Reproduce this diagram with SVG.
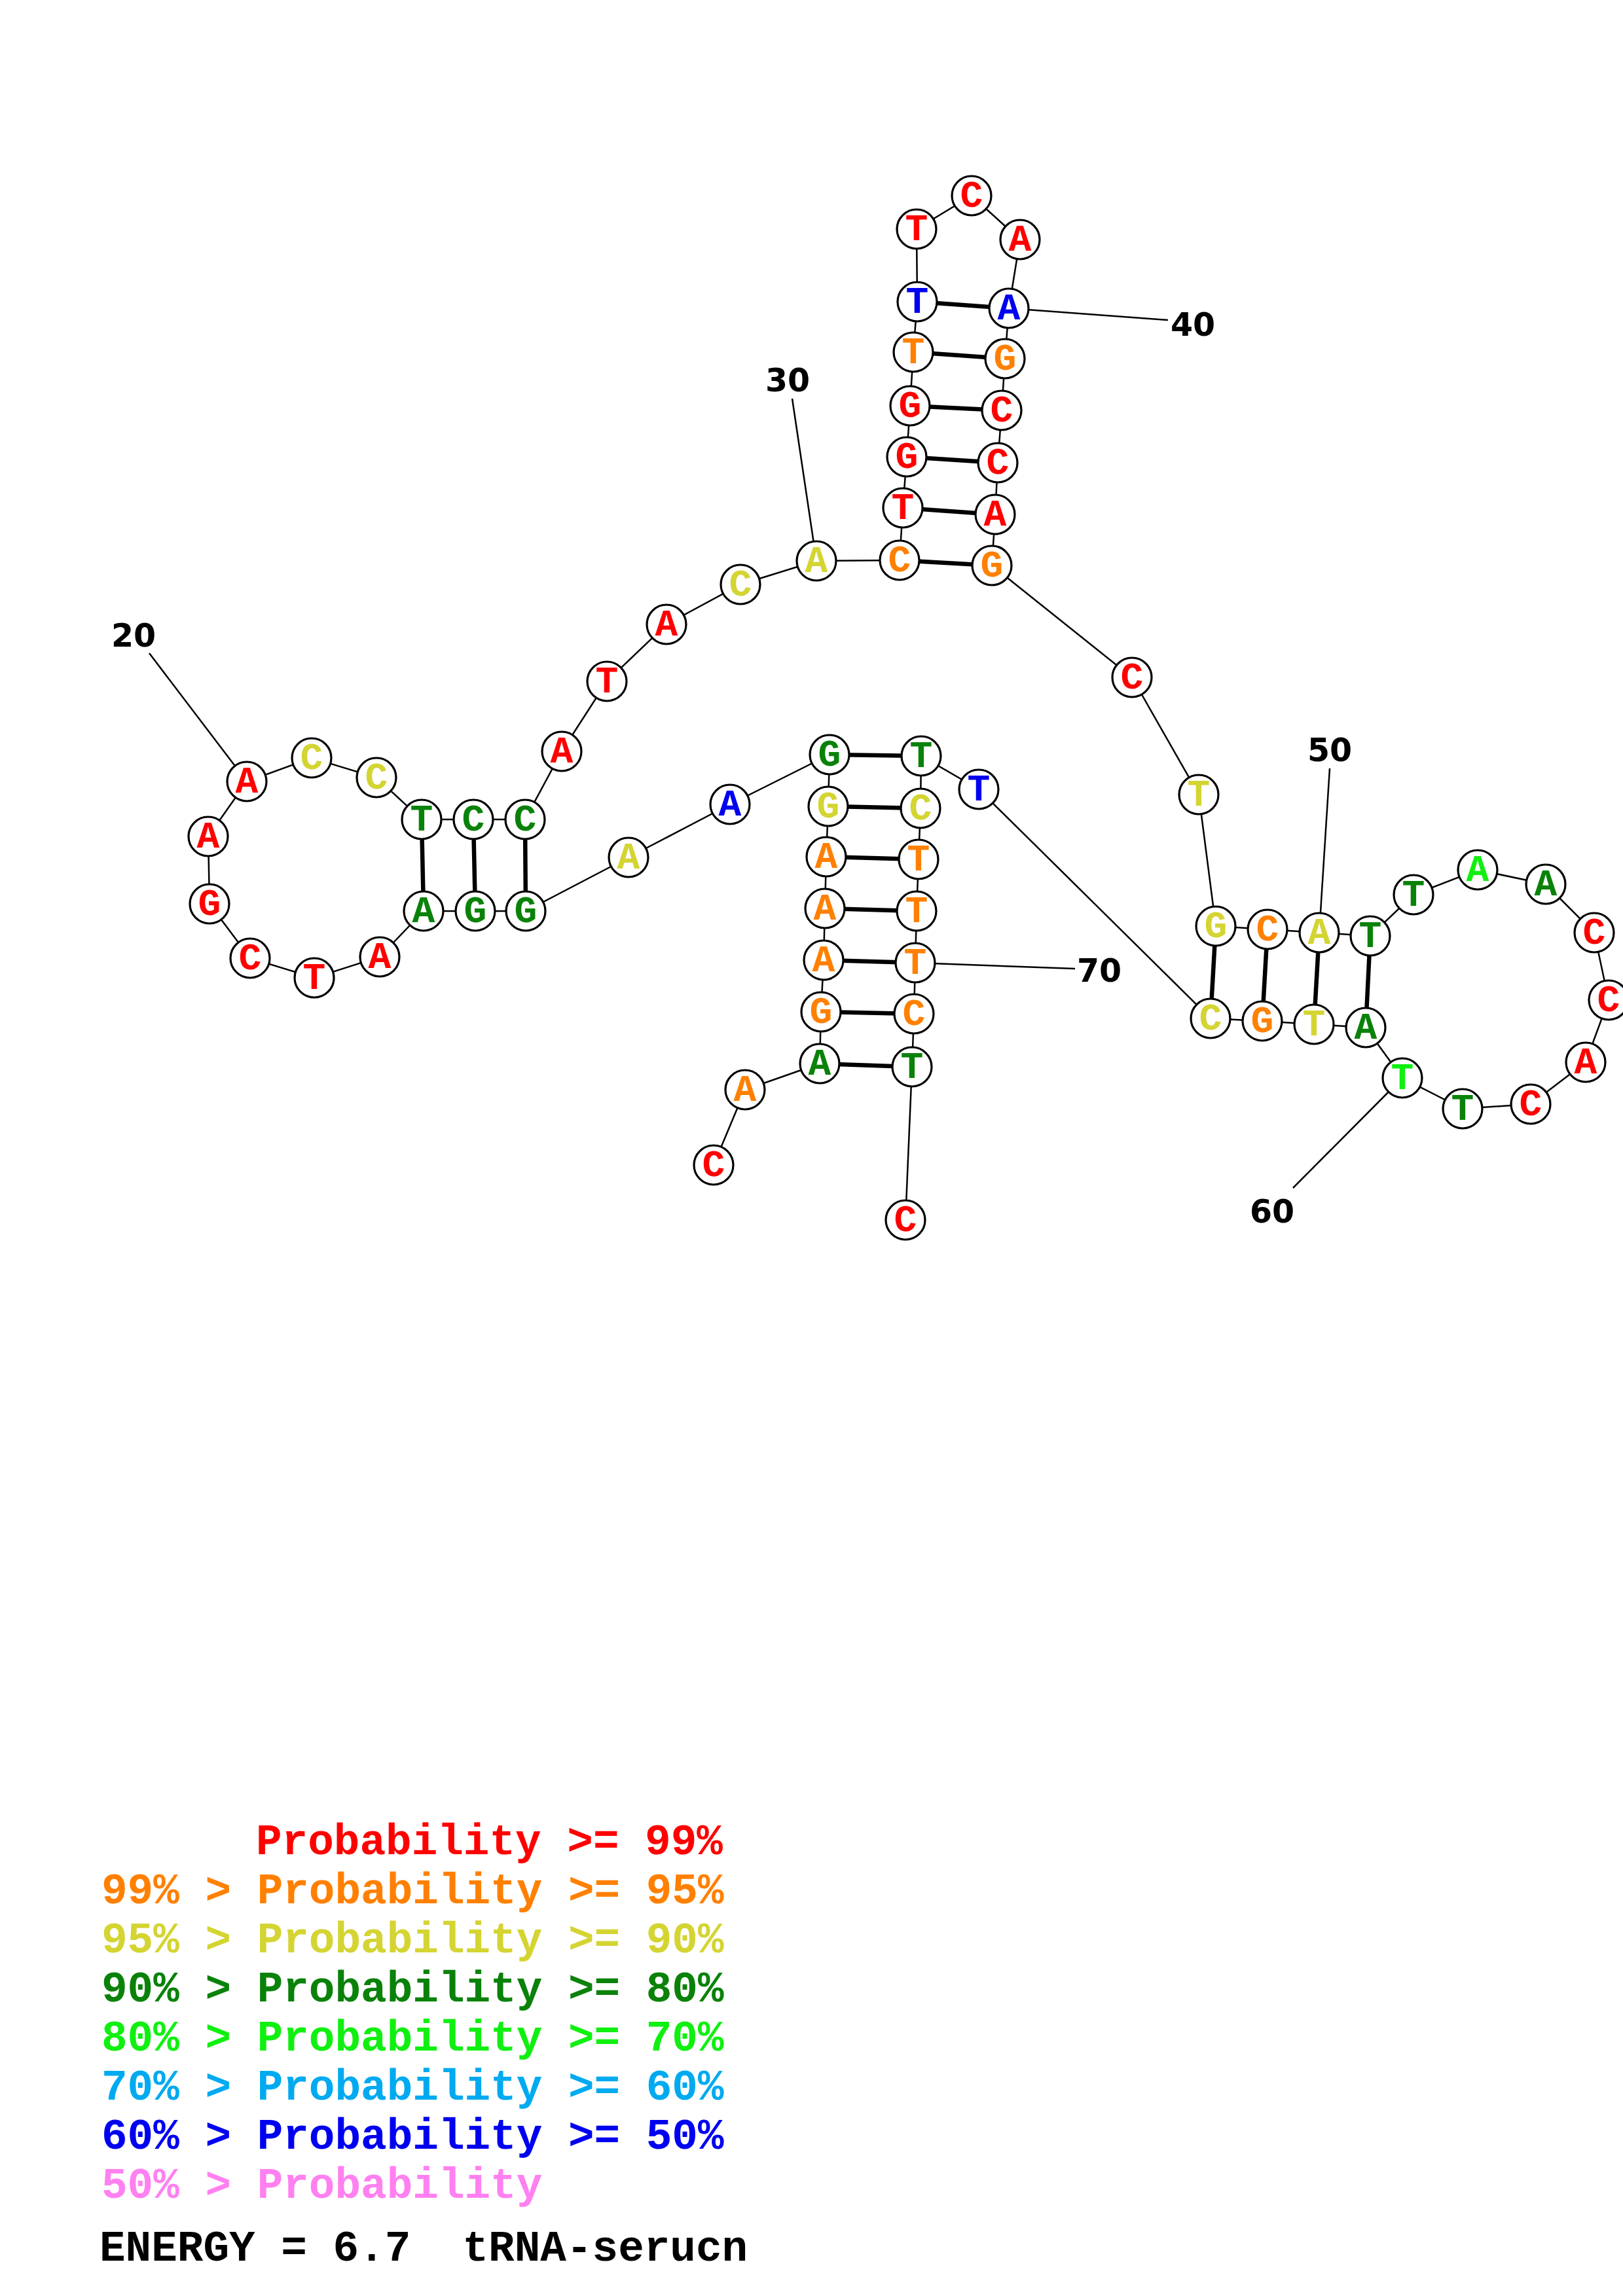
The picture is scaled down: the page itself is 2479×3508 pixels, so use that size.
<svg xmlns="http://www.w3.org/2000/svg" width="2479" height="3508" viewBox="0 0 2479 3508">
<style>
.bb{stroke:#000;stroke-width:2.5;fill:none}
.bp{stroke:#000;stroke-width:6.5;fill:none}
.tk{stroke:#000;stroke-width:2.5;fill:none}
circle{fill:#fff;stroke:#000;stroke-width:3.2}
.nt{font-family:"Liberation Mono","Courier New",monospace;font-weight:bold;font-size:58px;text-anchor:middle}
.num{font-family:"DejaVu Sans","Liberation Sans",sans-serif;font-weight:bold;font-size:49px;text-anchor:middle;fill:#000}
.lg{font-family:"Liberation Mono","Courier New",monospace;font-weight:bold;font-size:66px;white-space:pre}
.r{fill:#ff0000}.o{fill:#ff8000}.y{fill:#d4d432}.g{fill:#0a820a}.G{fill:#10f010}.c{fill:#00aaf0}.b{fill:#0000f0}.p{fill:#ff80f0}.k{fill:#000}
</style>
<rect width="2479" height="3508" fill="#fff"/>
<g id="connectors">
<polyline class="bb" points="1090,1780 1138,1665 1252,1625 1254,1546 1258,1467 1260,1388 1262,1309 1265,1232 1267,1153 1115,1229 960,1310 803,1392 726,1392 647,1392 580,1462 480,1494 382,1464 320,1381 318,1278 377,1194 476,1158 575,1188 644,1252 723,1252 802,1252 858,1148 927,1041 1018,954 1131,893 1247,857 1374,856 1379,776 1385,698 1390,620 1395,538 1401,461 1400,350 1484,299 1558,366 1541,471 1535,548 1530,627 1524,707 1520,786 1515,864 1729,1035 1831,1214 1857,1415 1936,1420 2015,1425 2093,1430 2159,1367 2257,1329 2361,1351 2435,1425 2457,1528 2422,1623 2338,1687 2234,1694 2142,1647 2086,1570 2007,1565 1928,1560 1849,1556 1495,1206 1407,1155 1406,1235 1403,1313 1400,1392 1398,1471 1396,1549 1393,1630 1383,1864"/>
<g id="pairs">
<line class="bp" x1="1252" y1="1625" x2="1393" y2="1630"/>
<line class="bp" x1="1254" y1="1546" x2="1396" y2="1549"/>
<line class="bp" x1="1258" y1="1467" x2="1398" y2="1471"/>
<line class="bp" x1="1260" y1="1388" x2="1400" y2="1392"/>
<line class="bp" x1="1262" y1="1309" x2="1403" y2="1313"/>
<line class="bp" x1="1265" y1="1232" x2="1406" y2="1235"/>
<line class="bp" x1="1267" y1="1153" x2="1407" y2="1155"/>
<line class="bp" x1="803" y1="1392" x2="802" y2="1252"/>
<line class="bp" x1="726" y1="1392" x2="723" y2="1252"/>
<line class="bp" x1="647" y1="1392" x2="644" y2="1252"/>
<line class="bp" x1="1374" y1="856" x2="1515" y2="864"/>
<line class="bp" x1="1379" y1="776" x2="1520" y2="786"/>
<line class="bp" x1="1385" y1="698" x2="1524" y2="707"/>
<line class="bp" x1="1390" y1="620" x2="1530" y2="627"/>
<line class="bp" x1="1395" y1="538" x2="1535" y2="548"/>
<line class="bp" x1="1401" y1="461" x2="1541" y2="471"/>
<line class="bp" x1="1857" y1="1415" x2="1849" y2="1556"/>
<line class="bp" x1="1936" y1="1420" x2="1928" y2="1560"/>
<line class="bp" x1="2015" y1="1425" x2="2007" y2="1565"/>
<line class="bp" x1="2093" y1="1430" x2="2086" y2="1570"/>
</g>
<g id="ticks">
<line class="tk" x1="228" y1="998" x2="377" y2="1194"/>
<line class="tk" x1="1210" y1="609" x2="1247" y2="857"/>
<line class="tk" x1="1784" y1="489" x2="1541" y2="471"/>
<line class="tk" x1="2031" y1="1174" x2="2015" y2="1425"/>
<line class="tk" x1="1975" y1="1815" x2="2142" y2="1647"/>
<line class="tk" x1="1642" y1="1480" x2="1398" y2="1471"/>
</g>
</g>
<g id="nodes">
<g id="n1"><circle cx="1090" cy="1780" r="30"/><text class="nt r" x="1090" y="1797">C</text></g>
<g id="n2"><circle cx="1138" cy="1665" r="30"/><text class="nt o" x="1138" y="1682">A</text></g>
<g id="n3"><circle cx="1252" cy="1625" r="30"/><text class="nt g" x="1252" y="1642">A</text></g>
<g id="n4"><circle cx="1254" cy="1546" r="30"/><text class="nt o" x="1254" y="1563">G</text></g>
<g id="n5"><circle cx="1258" cy="1467" r="30"/><text class="nt o" x="1258" y="1484">A</text></g>
<g id="n6"><circle cx="1260" cy="1388" r="30"/><text class="nt o" x="1260" y="1405">A</text></g>
<g id="n7"><circle cx="1262" cy="1309" r="30"/><text class="nt o" x="1262" y="1326">A</text></g>
<g id="n8"><circle cx="1265" cy="1232" r="30"/><text class="nt y" x="1265" y="1249">G</text></g>
<g id="n9"><circle cx="1267" cy="1153" r="30"/><text class="nt g" x="1267" y="1170">G</text></g>
<g id="n10"><circle cx="1115" cy="1229" r="30"/><text class="nt b" x="1115" y="1246">A</text></g>
<g id="n11"><circle cx="960" cy="1310" r="30"/><text class="nt y" x="960" y="1327">A</text></g>
<g id="n12"><circle cx="803" cy="1392" r="30"/><text class="nt g" x="803" y="1409">G</text></g>
<g id="n13"><circle cx="726" cy="1392" r="30"/><text class="nt g" x="726" y="1409">G</text></g>
<g id="n14"><circle cx="647" cy="1392" r="30"/><text class="nt g" x="647" y="1409">A</text></g>
<g id="n15"><circle cx="580" cy="1462" r="30"/><text class="nt r" x="580" y="1479">A</text></g>
<g id="n16"><circle cx="480" cy="1494" r="30"/><text class="nt r" x="480" y="1511">T</text></g>
<g id="n17"><circle cx="382" cy="1464" r="30"/><text class="nt r" x="382" y="1481">C</text></g>
<g id="n18"><circle cx="320" cy="1381" r="30"/><text class="nt r" x="320" y="1398">G</text></g>
<g id="n19"><circle cx="318" cy="1278" r="30"/><text class="nt r" x="318" y="1295">A</text></g>
<g id="n20"><circle cx="377" cy="1194" r="30"/><text class="nt r" x="377" y="1211">A</text></g>
<g id="n21"><circle cx="476" cy="1158" r="30"/><text class="nt y" x="476" y="1175">C</text></g>
<g id="n22"><circle cx="575" cy="1188" r="30"/><text class="nt y" x="575" y="1205">C</text></g>
<g id="n23"><circle cx="644" cy="1252" r="30"/><text class="nt g" x="644" y="1269">T</text></g>
<g id="n24"><circle cx="723" cy="1252" r="30"/><text class="nt g" x="723" y="1269">C</text></g>
<g id="n25"><circle cx="802" cy="1252" r="30"/><text class="nt g" x="802" y="1269">C</text></g>
<g id="n26"><circle cx="858" cy="1148" r="30"/><text class="nt r" x="858" y="1165">A</text></g>
<g id="n27"><circle cx="927" cy="1041" r="30"/><text class="nt r" x="927" y="1058">T</text></g>
<g id="n28"><circle cx="1018" cy="954" r="30"/><text class="nt r" x="1018" y="971">A</text></g>
<g id="n29"><circle cx="1131" cy="893" r="30"/><text class="nt y" x="1131" y="910">C</text></g>
<g id="n30"><circle cx="1247" cy="857" r="30"/><text class="nt y" x="1247" y="874">A</text></g>
<g id="n31"><circle cx="1374" cy="856" r="30"/><text class="nt o" x="1374" y="873">C</text></g>
<g id="n32"><circle cx="1379" cy="776" r="30"/><text class="nt r" x="1379" y="793">T</text></g>
<g id="n33"><circle cx="1385" cy="698" r="30"/><text class="nt r" x="1385" y="715">G</text></g>
<g id="n34"><circle cx="1390" cy="620" r="30"/><text class="nt r" x="1390" y="637">G</text></g>
<g id="n35"><circle cx="1395" cy="538" r="30"/><text class="nt o" x="1395" y="555">T</text></g>
<g id="n36"><circle cx="1401" cy="461" r="30"/><text class="nt b" x="1401" y="478">T</text></g>
<g id="n37"><circle cx="1400" cy="350" r="30"/><text class="nt r" x="1400" y="367">T</text></g>
<g id="n38"><circle cx="1484" cy="299" r="30"/><text class="nt r" x="1484" y="316">C</text></g>
<g id="n39"><circle cx="1558" cy="366" r="30"/><text class="nt r" x="1558" y="383">A</text></g>
<g id="n40"><circle cx="1541" cy="471" r="30"/><text class="nt b" x="1541" y="488">A</text></g>
<g id="n41"><circle cx="1535" cy="548" r="30"/><text class="nt o" x="1535" y="565">G</text></g>
<g id="n42"><circle cx="1530" cy="627" r="30"/><text class="nt r" x="1530" y="644">C</text></g>
<g id="n43"><circle cx="1524" cy="707" r="30"/><text class="nt r" x="1524" y="724">C</text></g>
<g id="n44"><circle cx="1520" cy="786" r="30"/><text class="nt r" x="1520" y="803">A</text></g>
<g id="n45"><circle cx="1515" cy="864" r="30"/><text class="nt o" x="1515" y="881">G</text></g>
<g id="n46"><circle cx="1729" cy="1035" r="30"/><text class="nt r" x="1729" y="1052">C</text></g>
<g id="n47"><circle cx="1831" cy="1214" r="30"/><text class="nt y" x="1831" y="1231">T</text></g>
<g id="n48"><circle cx="1857" cy="1415" r="30"/><text class="nt y" x="1857" y="1432">G</text></g>
<g id="n49"><circle cx="1936" cy="1420" r="30"/><text class="nt o" x="1936" y="1437">C</text></g>
<g id="n50"><circle cx="2015" cy="1425" r="30"/><text class="nt y" x="2015" y="1442">A</text></g>
<g id="n51"><circle cx="2093" cy="1430" r="30"/><text class="nt g" x="2093" y="1447">T</text></g>
<g id="n52"><circle cx="2159" cy="1367" r="30"/><text class="nt g" x="2159" y="1384">T</text></g>
<g id="n53"><circle cx="2257" cy="1329" r="30"/><text class="nt G" x="2257" y="1346">A</text></g>
<g id="n54"><circle cx="2361" cy="1351" r="30"/><text class="nt g" x="2361" y="1368">A</text></g>
<g id="n55"><circle cx="2435" cy="1425" r="30"/><text class="nt r" x="2435" y="1442">C</text></g>
<g id="n56"><circle cx="2457" cy="1528" r="30"/><text class="nt r" x="2457" y="1545">C</text></g>
<g id="n57"><circle cx="2422" cy="1623" r="30"/><text class="nt r" x="2422" y="1640">A</text></g>
<g id="n58"><circle cx="2338" cy="1687" r="30"/><text class="nt r" x="2338" y="1704">C</text></g>
<g id="n59"><circle cx="2234" cy="1694" r="30"/><text class="nt g" x="2234" y="1711">T</text></g>
<g id="n60"><circle cx="2142" cy="1647" r="30"/><text class="nt G" x="2142" y="1664">T</text></g>
<g id="n61"><circle cx="2086" cy="1570" r="30"/><text class="nt g" x="2086" y="1587">A</text></g>
<g id="n62"><circle cx="2007" cy="1565" r="30"/><text class="nt y" x="2007" y="1582">T</text></g>
<g id="n63"><circle cx="1928" cy="1560" r="30"/><text class="nt o" x="1928" y="1577">G</text></g>
<g id="n64"><circle cx="1849" cy="1556" r="30"/><text class="nt y" x="1849" y="1573">C</text></g>
<g id="n65"><circle cx="1495" cy="1206" r="30"/><text class="nt b" x="1495" y="1223">T</text></g>
<g id="n66"><circle cx="1407" cy="1155" r="30"/><text class="nt g" x="1407" y="1172">T</text></g>
<g id="n67"><circle cx="1406" cy="1235" r="30"/><text class="nt y" x="1406" y="1252">C</text></g>
<g id="n68"><circle cx="1403" cy="1313" r="30"/><text class="nt o" x="1403" y="1330">T</text></g>
<g id="n69"><circle cx="1400" cy="1392" r="30"/><text class="nt o" x="1400" y="1409">T</text></g>
<g id="n70"><circle cx="1398" cy="1471" r="30"/><text class="nt o" x="1398" y="1488">T</text></g>
<g id="n71"><circle cx="1396" cy="1549" r="30"/><text class="nt o" x="1396" y="1566">C</text></g>
<g id="n72"><circle cx="1393" cy="1630" r="30"/><text class="nt g" x="1393" y="1647">T</text></g>
<g id="n73"><circle cx="1383" cy="1864" r="30"/><text class="nt r" x="1383" y="1881">C</text></g>
</g>
<g id="labels">
<text class="num" x="204" y="988">20</text>
<text class="num" x="1203" y="598">30</text>
<text class="num" x="1822" y="513">40</text>
<text class="num" x="2031" y="1163">50</text>
<text class="num" x="1943" y="1868">60</text>
<text class="num" x="1679" y="1500">70</text>
</g>
<g id="legend">
<text class="lg r" x="391" y="2833">Probability &gt;= 99%</text>
<text class="lg o" x="155" y="2908">99% &gt; Probability &gt;= 95%</text>
<text class="lg y" x="155" y="2983">95% &gt; Probability &gt;= 90%</text>
<text class="lg g" x="155" y="3058">90% &gt; Probability &gt;= 80%</text>
<text class="lg G" x="155" y="3133">80% &gt; Probability &gt;= 70%</text>
<text class="lg c" x="155" y="3208">70% &gt; Probability &gt;= 60%</text>
<text class="lg b" x="155" y="3283">60% &gt; Probability &gt;= 50%</text>
<text class="lg p" x="155" y="3358">50% &gt; Probability</text>
<text class="lg k" x="152" y="3454">ENERGY = 6.7  tRNA-serucn</text>
</g>
</svg>
